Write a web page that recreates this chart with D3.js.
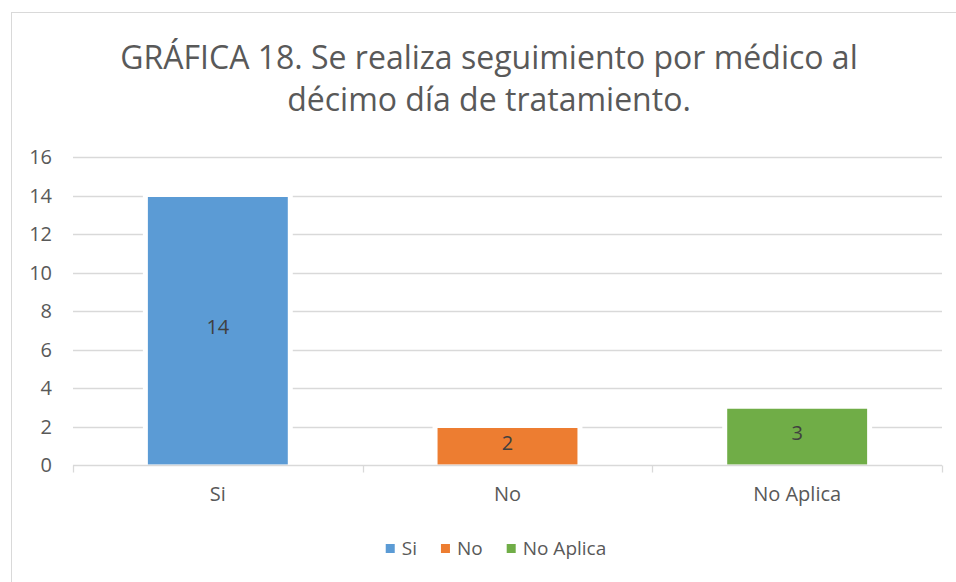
<!DOCTYPE html>
<html>
<head>
<meta charset="utf-8">
<script src="https://cdn.jsdelivr.net/npm/d3@7"></script>
<style>
  body { margin: 0; background: #fff; }
  text { font-family: "Open Sans", "Noto Sans", sans-serif; }
</style>
</head>
<body>
<div id="chart"></div>
<script>
const categories = ["Si", "No", "No Aplica"]
const values = [14, 2, 3]
const colours = ["#5B9BD5", "#ED7D31", "#70AD47"]
const yTicks = [0, 2, 4, 6, 8, 10, 12, 14, 16]
const titleLines = ["GRÁFICA 18. Se realiza seguimiento por médico al", "décimo día de tratamiento."]

const width = 956, height = 582
const margin = { left: 73, right: 14, top: 157, bottom: 117 }

const svg = d3.select("#chart").append("svg")
    .attr("width", width)
    .attr("height", height)

// chart frame
svg.append("rect")
    .attr("x", 11.5).attr("y", 12.5)
    .attr("width", 1000).attr("height", 1000)
    .attr("fill", "#fff")
    .attr("stroke", "#d9d9d9")

const x = d3.scaleBand()
    .domain(categories)
    .range([margin.left, width - margin.right])
    .paddingInner(0.517)
    .paddingOuter(0.2585)

const y = d3.scaleLinear()
    .domain([0, 16])
    .range([height - margin.bottom, margin.top])

// title
svg.append("g")
    .selectAll("text")
    .data(titleLines)
    .join("text")
    .attr("x", 489)
    .attr("y", (d, i) => 69 + i * 42)
    .attr("text-anchor", "middle")
    .attr("font-size", 32)
    .attr("fill", "#595959")
    .text(d => d)

// gridlines
svg.append("g")
    .selectAll("line")
    .data(yTicks.filter(d => d > 0))
    .join("line")
    .attr("x1", margin.left).attr("x2", width - margin.right)
    .attr("y1", d => Math.round(y(d)) + 0.5).attr("y2", d => Math.round(y(d)) + 0.5)
    .attr("stroke", "#d9d9d9")
    .attr("stroke-width", 1.3)

// y labels
svg.append("g")
    .selectAll("text")
    .data(yTicks)
    .join("text")
    .attr("x", 52)
    .attr("y", d => y(d))
    .attr("dy", "0.35em")
    .attr("text-anchor", "end")
    .attr("font-size", 20)
    .attr("fill", "#595959")
    .text(d => d)

// bars (white halo hides the gridlines next to them, like the original)
const bars = svg.append("g")
    .selectAll("g")
    .data(categories)
    .join("g")

bars.append("rect")
    .attr("x", d => x(d) - 5)
    .attr("y", (d, i) => y(values[i]) - 1)
    .attr("width", x.bandwidth() + 10)
    .attr("height", (d, i) => y(0) - y(values[i]) + 1)
    .attr("fill", "#fff")

bars.append("rect")
    .attr("x", d => x(d))
    .attr("y", (d, i) => y(values[i]) + 1.5)
    .attr("width", x.bandwidth())
    .attr("height", (d, i) => y(0) - y(values[i]) - 2)
    .attr("fill", (d, i) => colours[i])

bars.append("text")
    .attr("x", d => x(d) + x.bandwidth() / 2)
    .attr("y", (d, i) => (y(values[i]) + y(0)) / 2 - 3)
    .attr("dy", "0.35em")
    .attr("text-anchor", "middle")
    .attr("font-size", 20)
    .attr("fill", "#404040")
    .text((d, i) => values[i])

// x axis
const x0 = Math.round(y(0)) + 0.5
const bounds = categories.map(d => x(d) - x.step() * x.paddingInner() / 2)
bounds.push(width - margin.right)
const axis = svg.append("g")
    .attr("stroke", "#d9d9d9")
    .attr("stroke-width", 1.3)
axis.append("line")
    .attr("x1", margin.left).attr("x2", width - margin.right)
    .attr("y1", x0).attr("y2", x0)
axis.selectAll(".tick")
    .data(bounds)
    .join("line")
    .attr("x1", d => Math.round(d) + 0.5).attr("x2", d => Math.round(d) + 0.5)
    .attr("y1", x0).attr("y2", x0 + 7)

svg.append("g")
    .selectAll("text")
    .data(categories)
    .join("text")
    .attr("x", d => x(d) + x.bandwidth() / 2)
    .attr("y", 501)
    .attr("text-anchor", "middle")
    .attr("font-size", 20)
    .attr("fill", "#595959")
    .text(d => d)

// legend
const legend = svg.append("g")
const items = legend.selectAll("g")
    .data(categories)
    .join("g")
items.append("rect")
    .attr("width", 9).attr("height", 9)
    .attr("y", 544)
    .attr("fill", (d, i) => colours[i])
items.append("text")
    .attr("x", 16)
    .attr("y", 555)
    .attr("font-size", 19)
    .attr("fill", "#595959")
    .text(d => d)

let pos = 0
items.each(function () {
    const g = d3.select(this)
    g.attr("transform", `translate(${pos},0)`)
    pos += 16 + g.select("text").node().getComputedTextLength() + 24
})
pos -= 24
legend.attr("transform", `translate(${496 - pos / 2},0)`)
</script>
</body>
</html>
